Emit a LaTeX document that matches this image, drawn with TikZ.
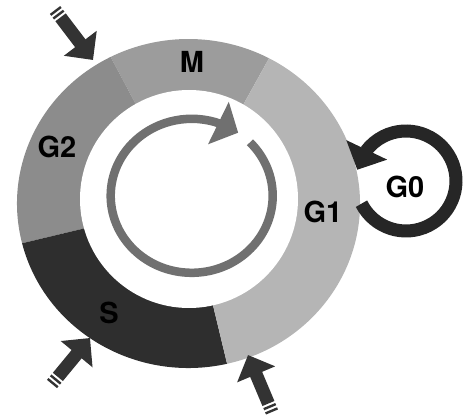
\documentclass[tikz,border=0pt]{standalone}
\usepackage{fontspec}
\setmainfont{TeX Gyre Heros}
\usetikzlibrary{arrows.meta, bending}
\definecolor{phaseM}{gray}{0.61}
\definecolor{phaseGtwo}{gray}{0.55}
\definecolor{phaseGone}{gray}{0.71}
\definecolor{phaseS}{gray}{0.18}
\definecolor{cyclegray}{gray}{0.44}
\definecolor{arrowgray}{gray}{0.2}
\definecolor{loopblack}{gray}{0.15}

\begin{document}
\begin{tikzpicture}[
  x=1pt, y=1pt,
  phase/.style={font=\bfseries\fontsize{29}{29}\selectfont, inner sep=0pt},
  cyclearrow/.style={-{Triangle[width=46pt,length=22pt]}, line width=8.5pt, draw=cyclegray},
  loopback/.style={-{Triangle[width=44pt,length=22pt]}, line width=13pt, draw=loopblack},
  inarrow/.style={-{Triangle[width=40pt,length=21pt]}, line width=13pt, draw=arrowgray,
    dash pattern=on 2.4pt off 2.2pt on 2.4pt off 2.2pt on 300pt off 0pt}
]
\useasboundingbox (0,0) rectangle (474,415);

% Ring of phases
\coordinate (ring) at (188.5,211.5);
\fill[phaseM] (ring) -- ++(62:171.5 and 164.5) arc[start angle=62, end angle=117, x radius=171.5, y radius=164.5] -- cycle;
\fill[phaseGtwo] (ring) -- ++(117:171.5 and 164.5) arc[start angle=117, end angle=194, x radius=171.5, y radius=164.5] -- cycle;
\fill[phaseS] (ring) -- ++(194:171.5 and 164.5) arc[start angle=194, end angle=283, x radius=171.5, y radius=164.5] -- cycle;
\fill[phaseGone] (ring) -- ++(283:171.5 and 164.5) arc[start angle=283, end angle=422, x radius=171.5, y radius=164.5] -- cycle;
\fill[white] (189,216) circle[radius=109];

% Cycle direction
\coordinate (cycle) at (191.7,219.2);
\draw[cyclearrow] ([shift={(44:81 and 77)}]cycle) arc[start angle=44, end angle=-305, x radius=81, y radius=77];

% Phase labels
\node[phase] (m) at (192,353) {M};
\node[phase] (gtwo) at (57,268) {G2};
\node[phase] (gone) at (323,203) {G1};
\node[phase] (s) at (109,102) {S};
\node[phase] (gzero) at (405,228) {G0};

% Quiescent loop
\coordinate (loop) at (406,234);
\draw[loopback] ([shift={(207:50)}]loop) arc[start angle=207, end angle=527, radius=50];

% Entry arrows
\coordinate (tailA) at (55,405);
\coordinate (tipA) at (93,355);
\coordinate (tailB) at (52,31);
\coordinate (tipB) at (90,77);
\coordinate (tailC) at (272,3);
\coordinate (tipC) at (248,60);
\draw[inarrow] (tailA) -- (tipA);
\draw[inarrow] (tailB) -- (tipB);
\draw[inarrow] (tailC) -- (tipC);

\end{tikzpicture}
\end{document}
